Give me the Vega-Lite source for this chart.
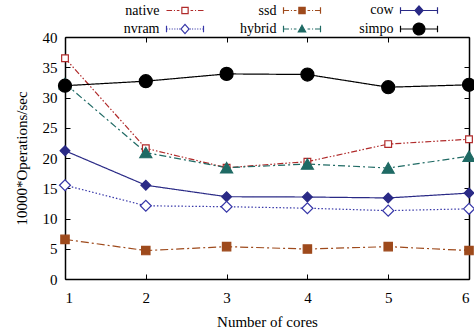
{
  "$schema": "https://vega.github.io/schema/vega-lite/v6.json",
  "width": 404,
  "height": 242,
  "autosize": {"type": "none"},
  "padding": {"left": 65, "top": 37, "right": 5, "bottom": 56},
  "config": {
    "font": "Liberation Serif",
    "view": {"stroke": null},
    "axis": {
      "grid": false,
      "domainColor": "#000000",
      "domainWidth": 1.5,
      "tickColor": "#000000",
      "tickWidth": 1,
      "tickSize": -5,
      "labelFont": "Liberation Serif",
      "labelFontSize": 15,
      "labelColor": "#000000",
      "titleFont": "Liberation Serif",
      "titleFontSize": 15,
      "titleFontWeight": "normal",
      "titleColor": "#000000"
    }
  },
  "data": {
    "values": [
      {"series": "native", "cores": 1, "ops": 36.5},
      {"series": "native", "cores": 2, "ops": 21.6},
      {"series": "native", "cores": 3, "ops": 18.4},
      {"series": "native", "cores": 4, "ops": 19.4},
      {"series": "native", "cores": 5, "ops": 22.3},
      {"series": "native", "cores": 6, "ops": 23.1},
      {"series": "ssd", "cores": 1, "ops": 6.55},
      {"series": "ssd", "cores": 2, "ops": 4.7},
      {"series": "ssd", "cores": 3, "ops": 5.35},
      {"series": "ssd", "cores": 4, "ops": 4.95},
      {"series": "ssd", "cores": 5, "ops": 5.35},
      {"series": "ssd", "cores": 6, "ops": 4.7},
      {"series": "cow", "cores": 1, "ops": 21.2},
      {"series": "cow", "cores": 2, "ops": 15.5},
      {"series": "cow", "cores": 3, "ops": 13.6},
      {"series": "cow", "cores": 4, "ops": 13.55},
      {"series": "cow", "cores": 5, "ops": 13.4},
      {"series": "cow", "cores": 6, "ops": 14.2},
      {"series": "nvram", "cores": 1, "ops": 15.5},
      {"series": "nvram", "cores": 2, "ops": 12.1},
      {"series": "nvram", "cores": 3, "ops": 11.95},
      {"series": "nvram", "cores": 4, "ops": 11.7},
      {"series": "nvram", "cores": 5, "ops": 11.3},
      {"series": "nvram", "cores": 6, "ops": 11.6},
      {"series": "hybrid", "cores": 1, "ops": 32.3},
      {"series": "hybrid", "cores": 2, "ops": 20.9},
      {"series": "hybrid", "cores": 3, "ops": 18.4},
      {"series": "hybrid", "cores": 4, "ops": 19.0},
      {"series": "hybrid", "cores": 5, "ops": 18.35},
      {"series": "hybrid", "cores": 6, "ops": 20.3},
      {"series": "simpo", "cores": 1, "ops": 31.95},
      {"series": "simpo", "cores": 2, "ops": 32.7},
      {"series": "simpo", "cores": 3, "ops": 33.9},
      {"series": "simpo", "cores": 4, "ops": 33.8},
      {"series": "simpo", "cores": 5, "ops": 31.7},
      {"series": "simpo", "cores": 6, "ops": 32.1}
    ]
  },
  "layer": [
    {
      "mark": {"type": "line", "strokeWidth": 1.2},
      "encoding": {
        "x": {
          "field": "cores", "type": "quantitative",
          "scale": {"domain": [1, 6], "nice": false},
          "axis": {"orient": "bottom", "values": [1, 2, 3, 4, 5, 6], "title": "Number of cores", "tickSize": -5, "labelPadding": 16, "titlePadding": 9}
        },
        "y": {
          "field": "ops", "type": "quantitative",
          "scale": {"domain": [0, 40], "nice": false},
          "axis": {"orient": "left", "values": [0, 5, 10, 15, 20, 25, 30, 35, 40], "title": "10000*Operations/sec", "tickSize": -5, "labelPadding": 13, "titlePadding": 13}
        },
        "color": {
          "field": "series", "type": "nominal",
          "scale": {
            "domain": ["native", "ssd", "cow", "nvram", "hybrid", "simpo"],
            "range": ["#b02a2a", "#9e4a1c", "#2a2a86", "#3636a8", "#1f6a64", "#000000"]
          },
          "legend": {
            "orient": "none",
            "direction": "horizontal",
            "legendX": 113,
            "legendY": -34,
            "columns": 3,
            "columnPadding": 16,
            "rowPadding": 2,
            "title": null,
            "labelFont": "Liberation Serif",
            "labelFontSize": 14,
            "labelColor": "#000000",
            "symbolSize": 100,
            "symbolStrokeWidth": 1.2,
            "encode": {
              "labels": {
                "update": {
                  "x": {"value": -18.5},
                  "align": {"value": "right"}
                }
              },
              "symbols": {
                "update": {
                  "shape": {"signal": "datum.value === 'native' ? 'M-15.5,0h0M-3.7,0H-2.59M-2.22,0H-2M-1.63,0H-1.11M3.7,0H2.59M2.22,0H2M1.63,0H1.11M-0.63,-0.63H0.63V0.63H-0.63Z' : datum.value === 'ssd' ? 'M-15.5,0h0M-3.7,0H-2.59M-2.22,0H-2M-1.63,0H-1.11M3.7,0H2.59M2.22,0H2M1.63,0H1.11M-3.7,-0.63V0.63M3.7,-0.63V0.63M-0.63,-0.63H0.63V0.63H-0.63Z' : datum.value === 'cow' ? 'M-15.5,0h0M-3.7,0H3.7M-3.7,-0.63V0.63M3.7,-0.63V0.63M0,-0.93L0.81,0L0,0.93L-0.81,0Z' : datum.value === 'nvram' ? 'M-15.5,0h0M-3.7,0H-3.48M-3.18,0H-2.96M-2.66,0H-2.44M-2.15,0H-1.92M-1.63,0H-1.41M-1.18,0H-0.96M3.7,0H3.48M3.18,0H2.96M2.66,0H2.44M2.15,0H1.92M1.63,0H1.41M1.18,0H0.96M-3.7,-0.63V0.63M3.7,-0.63V0.63M0,-0.93L0.81,0L0,0.93L-0.81,0Z' : datum.value === 'hybrid' ? 'M-15.5,0h0M-3.7,0H-2.59M-2.22,0H-2M-1.63,0H-1.11M3.7,0H2.59M2.22,0H2M1.63,0H1.11M-3.7,-0.63V0.63M3.7,-0.63V0.63M0,-0.74L0.74,0.59H-0.74Z' : 'M-15.5,0h0M-3.7,0H3.7M-3.7,-0.63V0.63M3.7,-0.63V0.63M1.18,0A1.18,1.18 0 1,1 -1.18,0A1.18,1.18 0 1,1 1.18,0Z'"},
                  "size": {"value": 100},
                  "fill": {"signal": "datum.value === 'native' || datum.value === 'nvram' ? 'white' : scale('color', datum.value)"},
                  "stroke": {"signal": "scale('color', datum.value)"},
                  "strokeDash": {"value": [1, 0]},
                  "strokeWidth": {"value": 1.2},
                  "opacity": {"value": 1}
                }
              }
            }
          }
        },
        "strokeDash": {
          "field": "series", "type": "nominal",
          "scale": {
            "domain": ["simpo", "hybrid", "nvram", "cow", "ssd", "native"],
            "range": [[1, 0], [7, 3, 2, 3], [1.5, 2], [1, 0], [8, 3, 2, 3], [6, 2, 1.5, 2, 1.5, 2]]
          },
          "legend": null
        }
      }
    },
    {
      "mark": {"type": "point", "filled": true, "strokeWidth": 1.2, "opacity": 1},
      "encoding": {
        "x": {
          "field": "cores", "type": "quantitative",
          "scale": {"domain": [1, 6], "nice": false},
          "axis": {"orient": "top", "values": [1, 2, 3, 4, 5, 6], "labels": false, "title": null, "tickSize": -5}
        },
        "y": {
          "field": "ops", "type": "quantitative",
          "scale": {"domain": [0, 40], "nice": false},
          "axis": {"orient": "right", "values": [0, 5, 10, 15, 20, 25, 30, 35, 40], "labels": false, "title": null, "tickSize": -5}
        },
        "fill": {
          "field": "series", "type": "nominal",
          "scale": {
            "domain": ["simpo", "hybrid", "nvram", "cow", "ssd", "native"],
            "range": ["#000000", "#1f6a64", "#ffffff", "#2a2a86", "#9e4a1c", "#ffffff"]
          },
          "legend": null
        },
        "stroke": {
          "field": "series", "type": "nominal",
          "scale": {
            "domain": ["simpo", "hybrid", "nvram", "cow", "ssd", "native"],
            "range": ["#000000", "#1f6a64", "#3636a8", "#2a2a86", "#9e4a1c", "#b02a2a"]
          },
          "legend": null
        },
        "shape": {
          "field": "series", "type": "nominal",
          "scale": {
            "domain": ["simpo", "hybrid", "nvram", "cow", "ssd", "native"],
            "range": ["circle", "triangle-up", "diamond", "diamond", "square", "square"]
          },
          "legend": null
        },
        "size": {
          "field": "series", "type": "nominal",
          "scale": {
            "domain": ["simpo", "hybrid", "nvram", "cow", "ssd", "native"],
            "range": [170, 45, 60, 70, 45, 40]
          },
          "legend": null
        }
      }
    }
  ],
  "resolve": {"axis": {"x": "independent", "y": "independent"}}
}
